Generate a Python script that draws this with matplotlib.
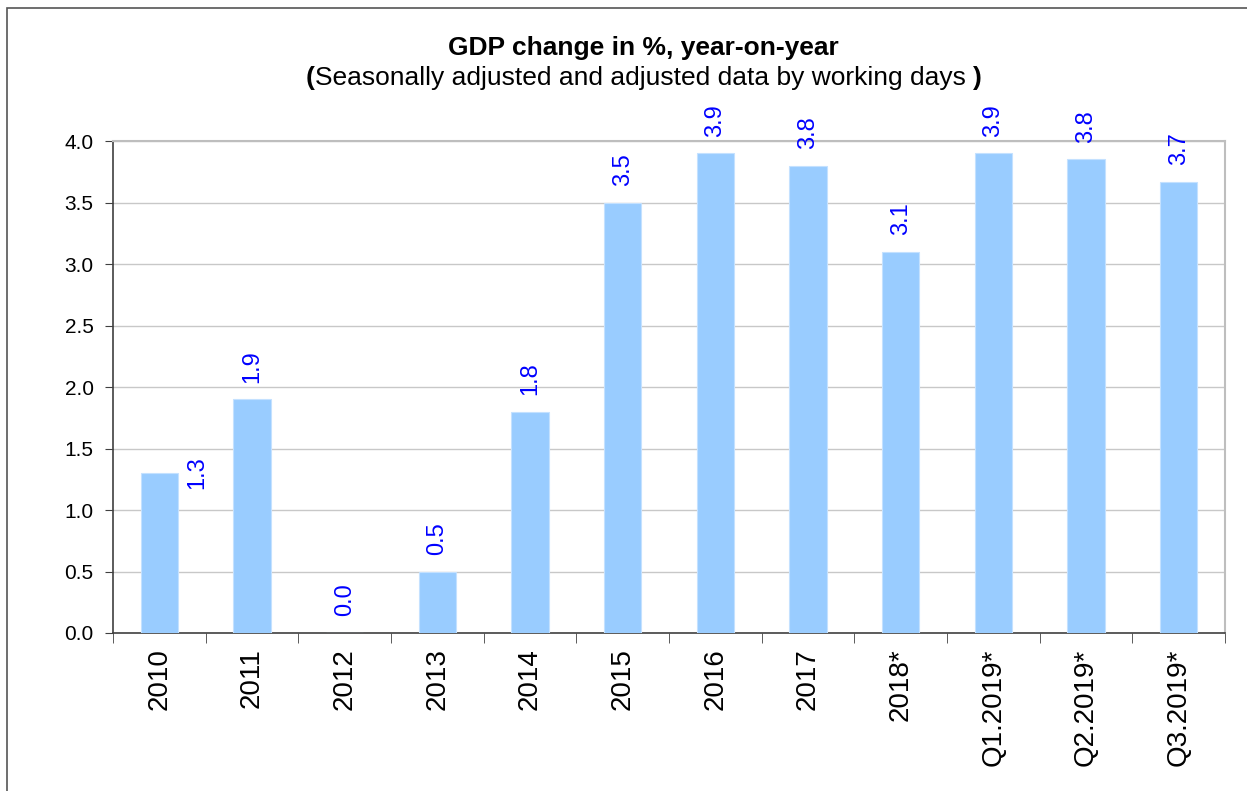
import matplotlib
matplotlib.use("Agg")
import matplotlib.pyplot as plt
from matplotlib.patches import Rectangle
from matplotlib.transforms import offset_copy
import numpy as np

plt.rcParams['font.family'] = ['Liberation Sans', 'DejaVu Sans']

categories = ["2010", "2011", "2012", "2013", "2014", "2015", "2016", "2017",
              "2018*", "Q1.2019*", "Q2.2019*", "Q3.2019*"]
values = [1.3, 1.9, 0.0, 0.5, 1.8, 3.5, 3.9, 3.8, 3.1, 3.9, 3.85, 3.67]
labels = ["1.3", "1.9", "0.0", "0.5", "1.8", "3.5", "3.9", "3.8", "3.1", "3.9", "3.8", "3.7"]
yticks = [0.0, 0.5, 1.0, 1.5, 2.0, 2.5, 3.0, 3.5, 4.0]

W, H = 1247, 791
fig = plt.figure(figsize=(W / 100, H / 100), dpi=100)
ax = fig.add_axes([113 / W, 1 - 633 / H, (1225 - 113) / W, (633 - 141) / H])

x = np.arange(len(categories))
ax.bar(x, values, width=0.4, color="#99CCFF", edgecolor="#C4E1FF", linewidth=0.8, zorder=3)

ax.set_xlim(-0.5, len(categories) - 0.5)
ax.set_ylim(0, 4.0)
ax.set_yticks(yticks)
ax.set_yticklabels([f"{v:.1f}" for v in yticks], fontsize=15)
ax.yaxis.grid(True, color="#C8C8C8", linewidth=1.0, zorder=0)
ax.set_axisbelow(True)

ax.set_xticks(x)
ax.set_xticklabels(categories, rotation=90, fontsize=20, va="top")
ax.tick_params(axis="x", length=0, pad=11)
ax.set_xticks(np.arange(len(categories) + 1) - 0.5, minor=True)
ax.tick_params(axis="x", which="minor", length=7, direction="out", color="#404040")
ax.tick_params(axis="y", length=6, direction="out", color="#404040", pad=8)

for s in ["left", "bottom"]:
    ax.spines[s].set_color("#404040")
    ax.spines[s].set_linewidth(1.2)
for s in ["top", "right"]:
    ax.spines[s].set_color("#BEBEBE")
    ax.spines[s].set_linewidth(1.5)

for i, (v, lab) in enumerate(zip(values, labels)):
    if i == 0:
        ax.annotate(lab, (i, v), xytext=(27, 0), textcoords="offset points",
                    rotation=90, ha="center", va="center", color="#0000FF", fontsize=17)
    else:
        ax.annotate(lab, (i, v), xytext=(0, 12), textcoords="offset points",
                    rotation=90, ha="center", va="bottom", color="#0000FF", fontsize=17)

fig.text(643 / W, 1 - 48 / H, "GDP change in %, year-on-year", ha="center", va="center",
         fontsize=19, fontweight="bold")

# subtitle with bold parentheses, laid out piece by piece
renderer = fig.canvas.get_renderer()
parts = [("(", "bold"), ("Seasonally adjusted and adjusted data by working days ", "normal"),
         (")", "bold")]
tmp = [fig.text(0, 0, s, fontsize=19, fontweight=w) for s, w in parts]
widths = [t.get_window_extent(renderer).width for t in tmp]
for t in tmp:
    t.remove()
total = sum(widths)
xpos = 644 - total / 2
for (s, w), wd in zip(parts, widths):
    fig.text(xpos / W, 1 - 78 / H, s, ha="left", va="center", fontsize=19, fontweight=w)
    xpos += wd

fig.patches.append(Rectangle((7 / W, -0.01), (W - 7 + 5) / W, 1 - 8 / H + 0.01,
                             transform=fig.transFigure, fill=False,
                             edgecolor="#555555", linewidth=1.2))

fig.savefig("out.png", dpi=100)
